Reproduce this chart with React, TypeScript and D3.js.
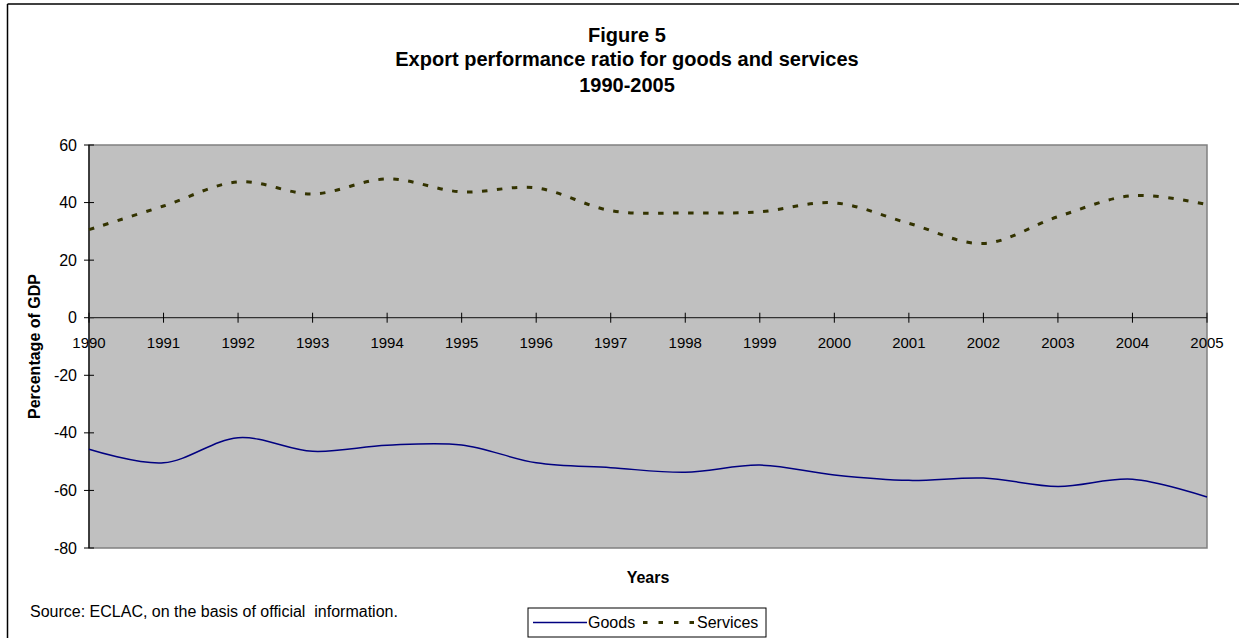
import React from "react";
import * as d3 from "d3";

const years = [1990, 1991, 1992, 1993, 1994, 1995, 1996, 1997, 1998, 1999, 2000, 2001, 2002, 2003, 2004, 2005];
const goods = [-45.7, -50.4, -41.7, -46.4, -44.3, -44.2, -50.4, -52.1, -53.7, -51.2, -54.6, -56.5, -55.7, -58.6, -56.1, -62.3];
const services = [30.6, 38.8, 47.2, 43.0, 48.2, 43.7, 45.1, 37.2, 36.4, 36.8, 39.9, 32.8, 25.8, 35.1, 42.4, 39.3];
const yTicks = [60, 40, 20, 0, -20, -40, -60, -80];
const titleLines = ["Figure 5", "Export performance ratio for goods and services", "1990-2005"];

const W = 1239;
const H = 638;
const PL = 89, PR = 1207, PT = 145, PB = 548;
const FONT = "Arial, 'Liberation Sans', Helvetica, sans-serif";

export default function App() {
  const x = d3.scaleLinear().domain([1990, 2005]).range([PL, PR]);
  const y = d3.scaleLinear().domain([-80, 60]).range([PB, PT]);
  const line = d3
    .line<number>()
    .x((_, i) => x(years[i]))
    .y((d) => y(d))
    .curve(d3.curveCatmullRom.alpha(0));

  return (
    <svg
      width={W}
      height={H}
      style={{ position: "absolute", left: 0, top: 0, background: "#fff" }}
      fontFamily={FONT}
    >
      <rect x={0} y={0} width={W} height={H} fill="#fff" />
      {/* outer frame */}
      <line x1={7.5} y1={4} x2={W} y2={4} stroke="#000" strokeWidth={1.5} />
      <line x1={7.5} y1={4} x2={7.5} y2={H} stroke="#000" strokeWidth={1.5} />

      {/* title */}
      {titleLines.map((t, i) => (
        <text key={i} x={627} y={[42, 66, 92][i]} textAnchor="middle" fontWeight="bold" fontSize={20} fill="#000">
          {t}
        </text>
      ))}

      {/* plot area */}
      <rect x={PL} y={PT} width={PR - PL} height={PB - PT} fill="#c0c0c0" stroke="#808080" strokeWidth={1.5} />
      <line x1={PL} y1={PT} x2={PL} y2={PB} stroke="#000" strokeWidth={1.2} />

      {/* y ticks */}
      {yTicks.map((v) => (
        <g key={v}>
          <line x1={PL - 5} x2={PL + 5} y1={y(v)} y2={y(v)} stroke="#000" strokeWidth={1} />
          <text x={77} y={y(v)} dy="0.35em" textAnchor="end" fontSize={16} fill="#000">
            {v}
          </text>
        </g>
      ))}

      {/* x axis at 0 */}
      <line x1={PL} x2={PR} y1={y(0)} y2={y(0)} stroke="#333" strokeWidth={1.3} />
      {years.map((yr) => (
        <g key={yr}>
          <line x1={x(yr)} x2={x(yr)} y1={y(0) - 5} y2={y(0) + 5} stroke="#000" strokeWidth={1} />
          <text x={x(yr)} y={348} textAnchor="middle" fontSize={15} fill="#000">
            {yr}
          </text>
        </g>
      ))}

      {/* series */}
      <path d={line(goods) || ""} fill="none" stroke="#000080" strokeWidth={1.5} />
      <path d={line(services) || ""} fill="none" stroke="#333300" strokeWidth={3} strokeDasharray="5.5 9.5" />

      {/* axis titles */}
      <text
        transform={`translate(40,${(PT + PB) / 2}) rotate(-90)`}
        textAnchor="middle"
        fontWeight="bold"
        fontSize={16}
        fill="#000"
      >
        Percentage of GDP
      </text>
      <text x={(PL + PR) / 2} y={583} textAnchor="middle" fontWeight="bold" fontSize={16} fill="#000">
        Years
      </text>

      {/* source */}
      <text x={30} y={617} fontSize={16} fill="#000" style={{ whiteSpace: "pre" }}>
        {"Source: ECLAC, on the basis of official  information."}
      </text>

      {/* legend */}
      <rect x={528} y={608} width={238} height={29} fill="#fff" stroke="#000" strokeWidth={1} />
      <line x1={533} x2={587} y1={622.5} y2={622.5} stroke="#000080" strokeWidth={1.5} />
      <text x={588} y={628} fontSize={16} fill="#000">Goods</text>
      <line x1={643} x2={697} y1={622.5} y2={622.5} stroke="#333300" strokeWidth={3} strokeDasharray="4.5 11" />
      <text x={697} y={628} fontSize={16} fill="#000">Services</text>
    </svg>
  );
}
